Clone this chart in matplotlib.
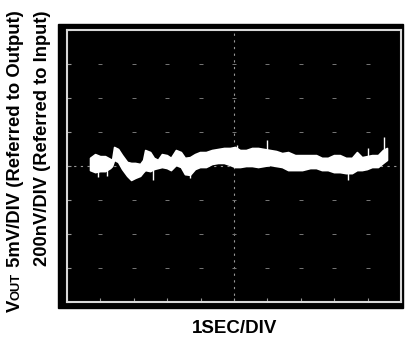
import numpy as np
import matplotlib.pyplot as plt
from matplotlib.patches import Rectangle

plt.rcParams['font.family'] = ['Liberation Sans', 'DejaVu Sans']

# scope trace, in divisions (x: 1 s/div, y: 5 mV/div)
t_div = [0.69, 0.84, 0.99, 1.14, 1.29, 1.35, 1.41, 1.53, 1.65, 1.80,
         1.92, 2.04, 2.19, 2.28, 2.34, 2.49, 2.60, 2.72, 2.84, 2.99,
         3.11, 3.26, 3.41, 3.53, 3.68, 3.83, 3.98, 4.16, 4.34, 4.52,
         4.70, 4.88, 5.03, 5.18, 5.36, 5.54, 5.72, 5.90, 6.08, 6.26,
         6.44, 6.62, 6.83, 7.04, 7.28, 7.46, 7.63, 7.81, 7.99, 8.17,
         8.35, 8.53, 8.68, 8.83, 8.98, 9.13, 9.31, 9.46, 9.58]
trace_top = [0.24, 0.35, 0.29, 0.29, 0.21, 0.18, 0.56, 0.50, 0.32, 0.12,
             0.09, 0.09, 0.06, 0.18, 0.47, 0.41, 0.24, 0.18, 0.35, 0.32,
             0.24, 0.47, 0.41, 0.24, 0.26, 0.35, 0.41, 0.41, 0.47, 0.50,
             0.53, 0.53, 0.56, 0.47, 0.47, 0.53, 0.53, 0.50, 0.47, 0.44,
             0.38, 0.41, 0.32, 0.32, 0.32, 0.32, 0.24, 0.24, 0.32, 0.32,
             0.24, 0.24, 0.41, 0.26, 0.29, 0.32, 0.32, 0.47, 0.53]
trace_bot = [-0.12, -0.18, -0.15, -0.15, -0.06, 0.00, 0.18, 0.12, -0.09, -0.29,
             -0.41, -0.35, -0.29, -0.18, -0.12, -0.15, -0.09, -0.06, -0.03, -0.06,
             -0.12, 0.03, -0.03, -0.24, -0.26, -0.09, -0.03, -0.03, 0.06, 0.09,
             0.09, 0.03, -0.03, -0.03, 0.00, 0.00, -0.03, 0.00, 0.03, 0.00,
             -0.03, -0.12, -0.12, -0.12, -0.06, -0.06, -0.12, -0.12, -0.18, -0.18,
             -0.21, -0.21, -0.12, -0.12, -0.09, -0.03, -0.03, 0.09, 0.18]

# thin noise spikes poking out of the band
spike_t = [0.93, 1.20, 2.57, 3.68, 8.41, 5.09, 5.99, 9.01, 9.49]
spike_v = [-0.32, -0.29, -0.41, -0.35, -0.41, 0.62, 0.76, 0.53, 0.85]

fig = plt.figure(figsize=(4.05, 3.38), dpi=100)
W, H = 405, 338

# black scope bezel
fig.patches.append(Rectangle((58/W, 1-308/H), (403-58)/W, (308-24)/H,
                             transform=fig.transFigure, color='black', zorder=-5))

ax = fig.add_axes([67/W, 1-302/H, 334/W, 272/H])
ax.set_zorder(2)
ax.set_facecolor('black')
ax.set_xlim(0, 10)
ax.set_ylim(-4, 4)
for s in ax.spines.values():
    s.set_color('#d8d8d8')
    s.set_linewidth(1.5)
ax.set_xticks(range(11))
ax.set_yticks(range(-4, 5))
ax.tick_params(direction='in', length=3, width=0.8, color='#999999',
               labelleft=False, labelbottom=False)

# graticule
ax.axhline(0, color='#999999', lw=0.8, ls=(0, (2, 4)))
ax.axvline(5, color='#999999', lw=0.8, ls=(0, (2, 4)))
gx, gy = np.meshgrid(np.arange(1, 10), np.arange(-3, 4))
ax.plot(gx.ravel(), gy.ravel(), ls='none', marker='_', ms=2.5, mew=0.7, color='#777777')

# trace
ax.fill_between(t_div, trace_bot, trace_top, color='white', lw=1.2,
                edgecolor='white', zorder=3)
mid = np.interp(spike_t, t_div, (np.array(trace_top) + np.array(trace_bot)) / 2)
ax.vlines(spike_t, mid, spike_v, color='white', lw=1.0, zorder=3)

# labels
fs = 13.3
fig.text(235/W, 1-333/H, '1SEC/DIV', ha='center', va='baseline', fontsize=13.5, fontweight='bold')

fig.text(43/W, 1-10/H, '200nV/DIV (Referred to Input)', rotation=90, ha='center', va='top',
         fontsize=13.2, fontweight='bold')

fig.canvas.draw()
r = fig.canvas.get_renderer()
kw = dict(rotation=90, rotation_mode='anchor', ha='left', va='baseline', fontweight='bold')
xb = 20/W
y0 = 1 - 312/H
pieces = [('V', fs), ('OUT', fs*0.7), (' 5mV/DIV (Referred to Output)', fs)]
for txt, size in pieces:
    t = fig.text(xb, y0, txt, fontsize=size, **kw)
    bb = t.get_window_extent(r)
    y0 = bb.y1 / fig.bbox.height

fig.savefig('out.png', dpi=100)
